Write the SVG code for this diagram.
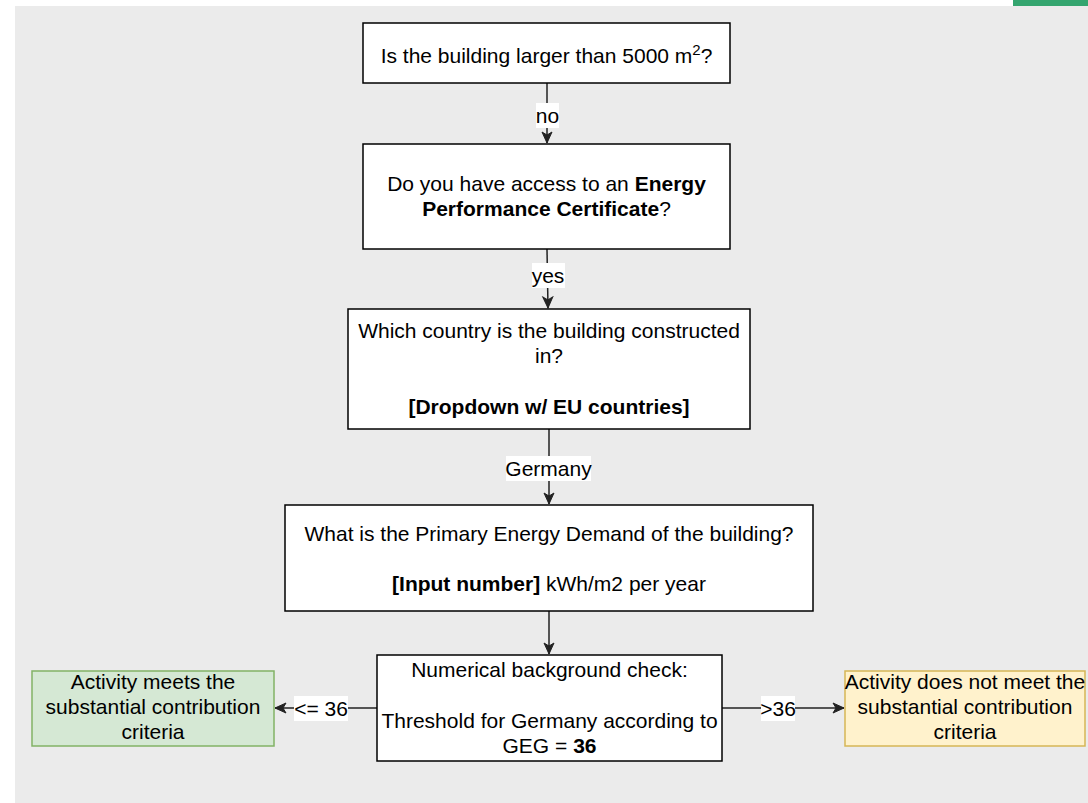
<svg xmlns="http://www.w3.org/2000/svg" width="1088" height="803" viewBox="0 0 1088 803">
<style>
  .box { fill: #ffffff; stroke: #000000; stroke-width: 1.5; }
  .green { fill: #d5e8d4; stroke: #82b366; stroke-width: 1.5; }
  .yellow { fill: #fff2cc; stroke: #d6b656; stroke-width: 1.5; }
  text { font-family: "Liberation Sans", Arial, Helvetica, sans-serif; font-size: 21px; fill: #000000; text-anchor: middle; }
  .b { font-weight: bold; }
  .edge { fill: none; stroke: #222222; stroke-width: 1.5; }
  .lbl { fill: #ffffff; stroke: none; }
</style>
<defs>
  <marker id="arrow" markerUnits="userSpaceOnUse" markerWidth="13" markerHeight="13" viewBox="0 0 13 13" refX="12" refY="6.5" orient="auto">
    <path d="M1,1.5 L12,6.5 L1,11.5 L4,6.5 Z" fill="#222222" stroke="#222222" stroke-width="1"/>
  </marker>
</defs>
<rect x="0" y="0" width="1088" height="803" fill="#ffffff"/>
<rect x="15" y="6" width="1073" height="797" fill="#ebebeb"/>
<rect x="1013" y="0" width="75" height="6" fill="#34a56f"/>

<g id="connectors">
  <path class="edge" d="M547,83 L547,143" marker-end="url(#arrow)"/>
  <rect class="lbl" x="536" y="103" width="23" height="25"/>
  <text x="547.5" y="123">no</text>

  <path class="edge" d="M547,249 L548,308" marker-end="url(#arrow)"/>
  <rect class="lbl" x="532" y="263" width="33" height="25"/>
  <text x="548" y="283">yes</text>

  <path class="edge" d="M549,429 L549,504" marker-end="url(#arrow)"/>
  <rect class="lbl" x="506" y="456" width="85" height="25"/>
  <text x="548.5" y="476">Germany</text>

  <path class="edge" d="M549,611 L549,654" marker-end="url(#arrow)"/>

  <path class="edge" d="M377,708 L275,708" marker-end="url(#arrow)"/>
  <rect class="lbl" x="294" y="696" width="54" height="25"/>
  <text x="321" y="716">&lt;= 36</text>

  <path class="edge" d="M722,708 L844,708" marker-end="url(#arrow)"/>
  <rect class="lbl" x="761" y="696" width="34" height="25"/>
  <text x="778" y="716">&gt;36</text>
</g>

<g id="node-size">
  <rect class="box" x="363" y="23" width="367" height="60"/>
  <text x="546.5" y="63">Is the building larger than 5000 m<tspan dy="-8" font-size="15">2</tspan><tspan dy="8">?</tspan></text>
</g>

<g id="node-epc">
  <rect class="box" x="363" y="144" width="367" height="105"/>
  <text x="546.5" y="191">Do you have access to an <tspan class="b">Energy</tspan></text>
  <text x="546.5" y="216"><tspan class="b">Performance Certificate</tspan>?</text>
</g>

<g id="node-country">
  <rect class="box" x="348" y="309" width="402" height="120"/>
  <text x="549" y="338">Which country is the building constructed</text>
  <text x="549" y="363">in?</text>
  <text x="549" y="414" class="b">[Dropdown w/ EU countries]</text>
</g>

<g id="node-demand">
  <rect class="box" x="285" y="505" width="528" height="106"/>
  <text x="549" y="541">What is the Primary Energy Demand of the building?</text>
  <text x="549" y="591"><tspan class="b">[Input number]</tspan> kWh/m2 per year</text>
</g>

<g id="node-check">
  <rect class="box" x="377" y="655" width="345" height="106"/>
  <text x="549.5" y="677">Numerical background check:</text>
  <text x="549.5" y="728">Threshold for Germany according to</text>
  <text x="549.5" y="753">GEG = <tspan class="b">36</tspan></text>
</g>

<g id="node-meets">
  <rect class="green" x="32" y="671" width="242" height="75"/>
  <text x="153" y="689">Activity meets the</text>
  <text x="153" y="714">substantial contribution</text>
  <text x="153" y="739">criteria</text>
</g>

<g id="node-notmeet">
  <rect class="yellow" x="845" y="671" width="240" height="75"/>
  <text x="965" y="689">Activity does not meet the</text>
  <text x="965" y="714">substantial contribution</text>
  <text x="965" y="739">criteria</text>
</g>
</svg>
